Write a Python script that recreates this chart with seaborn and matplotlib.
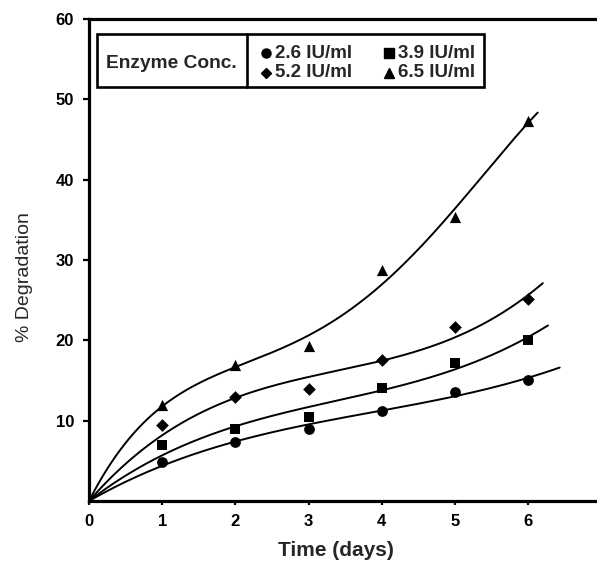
import numpy as np
import pandas as pd
import matplotlib
matplotlib.use("Agg")
import matplotlib.pyplot as plt
import seaborn as sns
from matplotlib.patches import Rectangle

days = [1, 2, 3, 4, 5, 6]
conc_labels = ["2.6 IU/ml", "3.9 IU/ml", "5.2 IU/ml", "6.5 IU/ml"]
deg_26 = [4.9, 7.4, 9.0, 11.2, 13.6, 15.1]
deg_39 = [7.0, 9.0, 10.5, 14.1, 17.2, 20.0]
deg_52 = [9.4, 12.9, 14.0, 17.5, 21.6, 25.1]
deg_65 = [12.0, 16.9, 19.3, 28.7, 35.4, 47.3]
fit_order = [3, 3, 3, 4]
fit_end = [6.43, 6.27, 6.2, 6.13]
x_ticks = [0, 1, 2, 3, 4, 5, 6]
y_ticks = [10, 20, 30, 40, 50, 60]

sns.set_theme(style="white")
plt.rcParams["font.family"] = ["Liberation Sans", "DejaVu Sans"]

series = [deg_26, deg_39, deg_52, deg_65]
markers = ["o", "s", "D", "^"]
msizes = [60, 55, 42, 65]

rows = []
for lab, vals in zip(conc_labels, series):
    for d, v in zip(days, vals):
        rows.append({"Time": d, "Deg": v, "Conc": lab})
pts = pd.DataFrame(rows)

# polynomial trendlines (zero intercept) fitted to the data
fit_rows = []
for lab, vals, order, xe in zip(conc_labels, series, fit_order, fit_end):
    x = np.array([0] + days, float)
    y = np.array([0] + vals, float)
    A = np.vstack([x**k for k in range(1, order + 1)]).T
    coef, *_ = np.linalg.lstsq(A, y, rcond=None)
    xs = np.linspace(0, xe, 300)
    ys = sum(c * xs**(k + 1) for k, c in enumerate(coef))
    for a, b in zip(xs, ys):
        fit_rows.append({"Time": a, "Deg": b, "Conc": lab})
fits = pd.DataFrame(fit_rows)

W, H = 597, 564
fig = plt.figure(figsize=(W/100, H/100), dpi=100)
ax = fig.add_axes([89/W, (H-501)/H, (597-89)/W, (501-19)/H])

sns.lineplot(data=fits, x="Time", y="Deg", units="Conc", estimator=None,
             sort=False, color="black", lw=1.4, ax=ax, legend=False)
for lab, m, s in zip(conc_labels, markers, msizes):
    sns.scatterplot(data=pts[pts["Conc"] == lab], x="Time", y="Deg",
                    marker=m, s=s, color="black", edgecolor="black",
                    linewidth=0, ax=ax, legend=False, zorder=5)

ax.set_xlim(0, (597-89)/73.2)
ax.set_ylim(0, 60)
ax.set_xticks(x_ticks)
ax.set_yticks(y_ticks)
ax.set_xticklabels([str(t) for t in x_ticks], fontsize=12, fontweight="bold")
ax.set_yticklabels([str(t) for t in y_ticks], fontsize=12, fontweight="bold")
ax.tick_params(axis="y", direction="out", length=4.3, width=1.6, left=True,
               pad=6.5, colors="black")
ax.tick_params(axis="x", direction="out", length=3, width=1.6, bottom=True,
               pad=6.5, colors="black")
for sp in ["left", "bottom", "top"]:
    ax.spines[sp].set_linewidth(2.3)
    ax.spines[sp].set_color("black")
ax.spines["right"].set_visible(False)
ax.set_xlabel("Time (days)", fontsize=15, fontweight="bold")
ax.set_ylabel("% Degradation", fontsize=14)
ax.xaxis.set_label_coords((335.5-89)/508, (501-541)/482)
ax.yaxis.set_label_coords((33-89)/508, (501-277)/482)

# legend box drawn in figure pixel coordinates
def fx(px):
    return px / W
def fy(py):
    return 1 - py / H

fig.patches.append(Rectangle((fx(97), fy(87)), fx(484) - fx(97), fy(34) - fy(87),
                             transform=fig.transFigure, fill=False, lw=1.9, ec="black"))
fig.lines.append(plt.Line2D([fx(247), fx(247)], [fy(34), fy(87)],
                            transform=fig.transFigure, color="black", lw=1.9))
fig.text(fx(171), fy(63), "Enzyme Conc.", ha="center", va="center",
         fontsize=13.8, fontweight="bold")
leg_pos = [(266, 53), (389, 53), (266, 73), (389, 73)]
leg_ms = [6.5, 6.5, 5.5, 7.5]
for (px, py), lab, m, ms in zip(leg_pos, conc_labels, markers, leg_ms):
    fig.lines.append(plt.Line2D([fx(px)], [fy(py)], transform=fig.transFigure,
                                marker=m, ms=ms, color="black", ls="none"))
    fig.text(fx(px + 9), fy(py), lab, ha="left", va="center",
             fontsize=13.5, fontweight="bold")

fig.savefig("out.png", dpi=100)
